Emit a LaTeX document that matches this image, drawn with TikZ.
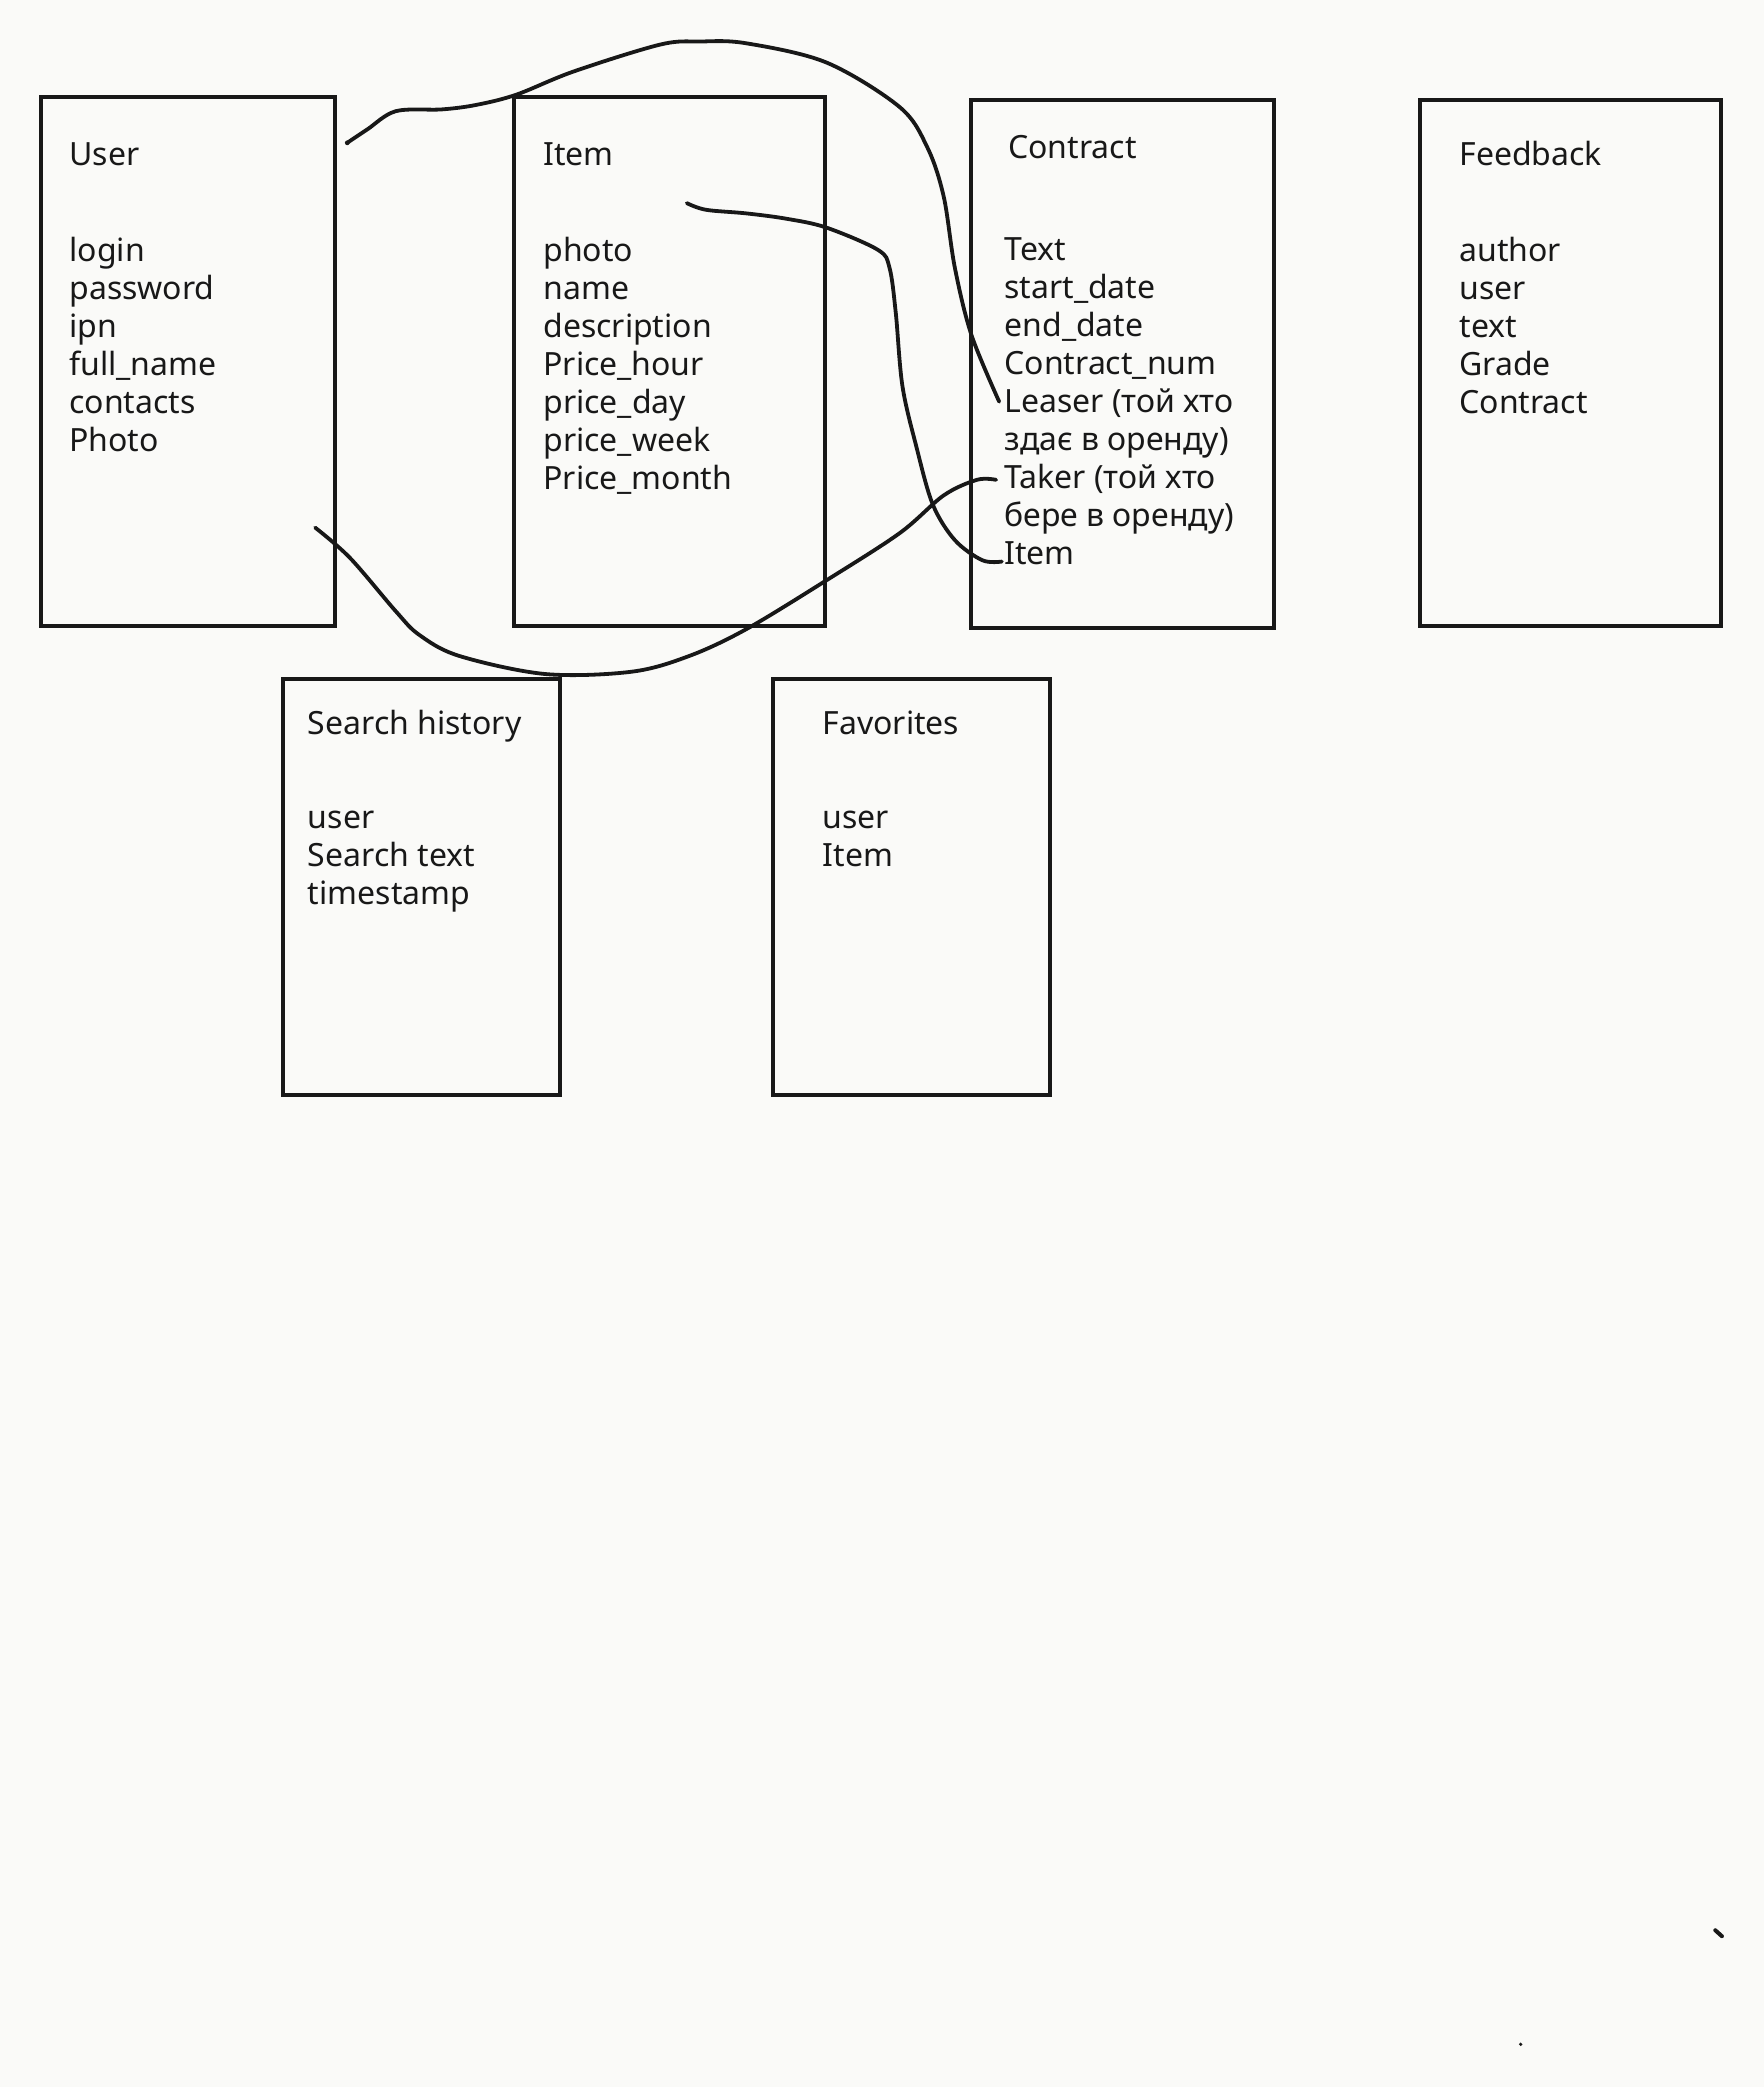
\documentclass[tikz,border=0pt]{standalone}
\usepackage{fontspec}
\setmainfont{Noto Sans}
\usetikzlibrary{fit}
\definecolor{bg}{RGB}{250,250,248}
\definecolor{ink}{RGB}{24,24,24}
\newcommand{\fldfont}{\fontsize{16pt}{19pt}\selectfont}
\tikzset{
  box/.style={draw=ink, line width=2pt, inner sep=0pt, outer sep=0pt},
  fld/.style={anchor=base west, inner sep=0pt, outer sep=0pt, font=\fldfont, text=ink},
  conn/.style={draw=ink, line width=1.9pt, line cap=round, line join=round},
}
\begin{document}
\begin{tikzpicture}[x=0.6657pt, y=-0.6657pt]
\fill[bg] (0,0) rectangle (1325,1568);
\useasboundingbox (0,0) rectangle (1325,1568);

% boxes
\node[box, fit={(31,72.8) (251.4,470.5)}] (userbox) {};
\node[box, fit={(385.9,72.8) (620.1,470.5)}] (itembox) {};
\node[box, fit={(729.8,75.1) (957,471.8)}] (contractbox) {};
\node[box, fit={(1066.7,75.1) (1293.1,470.5)}] (feedbackbox) {};
\node[box, fit={(212.6,510) (421.1,822.5)}] (searchbox) {};
\node[box, fit={(580.7,510) (789.1,822.5)}] (favbox) {};

% titles
\node[fld] (usert) at (52.2,124.1) {User};
\node[fld] (itemt) at (408.3,124.1) {Item};
\node[fld] (contractt) at (757.6,119.0) {Contract};
\node[fld] (feedbackt) at (1096.5,124.1) {Feedback};
\node[fld] (searcht) at (231.4,552.1) {Search history};
\node[fld] (favt) at (618.1,552.1) {Favorites};

% fields
\foreach \t [count=\i from 0] in {login,password,ipn,full\_name,contacts,Photo}
  \node[fld] (u\i) at (52.2,196.2+\i*28.6) {\t};
\foreach \t [count=\i from 0] in {photo,name,description,Price\_hour,price\_day,price\_week,Price\_month}
  \node[fld] (it\i) at (408.3,196.2+\i*28.6) {\t};
\foreach \t [count=\i from 0] in {Text,start\_date,end\_date,Contract\_num,Leaser (той хто,здає в оренду),Taker (той хто,бере в оренду),Item}
  \node[fld] (c\i) at (754.7,195.5+\i*28.6) {\t};
\foreach \t [count=\i from 0] in {author,user,text,Grade,Contract}
  \node[fld] (f\i) at (1096.5,196.2+\i*28.6) {\t};
\foreach \t [count=\i from 0] in {user,Search text,timestamp}
  \node[fld] (s\i) at (231.4,622.2+\i*28.8) {\t};
\foreach \t [count=\i from 0] in {user,Item}
  \node[fld] (fv\i) at (618.1,622.2+\i*28.8) {\t};

% connector start points
\coordinate (userTop) at (260.9,107.3);
\coordinate (itemPhoto) at (516,152.6);
\coordinate (userLow) at (236.8,396.4);

% connectors
\draw[conn] plot[smooth, tension=0.55] coordinates {
  (userTop) (276,97.2) (297.5,83.5) (332,82.2) (357.9,78.8) (388,71.1) (431,53.7)
  (496,33.5) (526,31.2) (560.5,32.5) (621,47) (676,80.5) (696.7,110.7)
  (709,147.6) (717.4,201.2) (729.8,251.5) ([shift={(-4,-8.1)}]c4.base west)};
\fill[ink] (userTop) circle (1.8);

\draw[conn] plot[smooth, tension=0.55] coordinates {
  (itemPhoto) (530.3,157.6) (560.5,160.3) (590.6,164.3) (620.9,171) (659.7,187.8)
  (668.3,201.2) (673,235) (678,290) (688.4,335.3) (700.8,379) (717.4,405.8)
  (738,420.9) ([shift={(-2,-2.4)}]c8.base west)};

\draw[conn] plot[smooth, tension=0.55] coordinates {
  (userLow) (263,419.2) (297.5,459.4) (315,477) (345,492.8) (409.5,506.4)
  (474.3,504.7) (517.4,493) (560.5,472.8) (620.9,436) (676,400.5) (709,372.2)
  (734,360.5) ([shift={(-6.3,-6.6)}]c6.base west)};

% stray marks
\draw[ink, line width=2pt, line cap=round] (1288.7,1450.2) -- (1293.7,1454.7);
\fill[ink] (1142.5,1535.9) circle (1.4);
\end{tikzpicture}
\end{document}
